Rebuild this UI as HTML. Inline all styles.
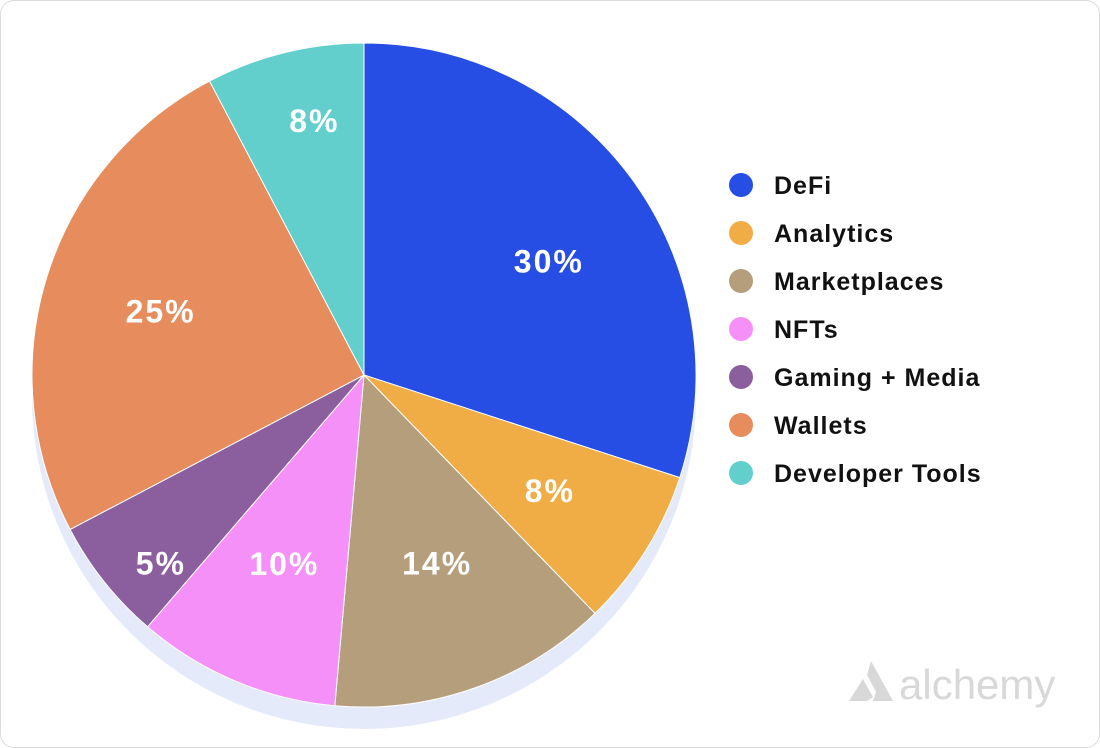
<!DOCTYPE html>
<html><head><meta charset="utf-8"><style>
html,body{margin:0;padding:0;background:#fff;}
#card{position:absolute;left:0;top:0;width:1098px;height:746px;border:1px solid #dcdcdc;border-radius:14px;background:#fff;overflow:hidden;}
svg{position:absolute;left:0;top:0;}
text{font-family:"Liberation Sans",sans-serif;}
</style></head><body>
<div id="card">
<svg id="chart" width="1100" height="748"></svg>
</div>
<script>
const categories=["DeFi","Analytics","Marketplaces","NFTs","Gaming + Media","Wallets","Developer Tools"];
const values=[30,7.75,13.65,9.9,6,25,7.7];
const labels=["30%","8%","14%","10%","5%","25%","8%"];
const colors=["#264de4","#f0ad46","#b59e7b","#f590f9","#8b5f9e","#e68c5d","#62cfcd"];
const labelRadius=[217,219,202,205,277,213,259];
const labelAngleOffset=[4.4,0,-1.7,0,-4.3,0,2.8];
const NS="http://www.w3.org/2000/svg";
const svg=document.getElementById('chart');
const cx=363,cy=374,R=332;
function mk(t,a,p){const e=document.createElementNS(NS,t);for(const k in a)e.setAttribute(k,a[k]);(p||svg).appendChild(e);return e;}
const sh=mk('circle',{cx:cx,cy:cy+22,r:R,fill:'#e5eafb'});


const total=values.reduce((a,b)=>a+b,0);
function pt(a,r){return [cx+r*Math.sin(a),cy-r*Math.cos(a)];}
let acc=0;
values.forEach((v,i)=>{
  const a0=acc/total*2*Math.PI;acc+=v;const a1=acc/total*2*Math.PI;
  const p0=pt(a0,R),p1=pt(a1,R);
  const large=(a1-a0)>Math.PI?1:0;
  const s=mk('path',{d:`M${cx},${cy}L${p0[0]},${p0[1]}A${R},${R} 0 ${large} 1 ${p1[0]},${p1[1]}Z`,fill:colors[i],stroke:'#fff','stroke-width':1});
  
  
  const m=(a0+a1)/2+labelAngleOffset[i]*Math.PI/180;const lp=pt(m,labelRadius[i]);
  const t=mk('text',{x:lp[0],y:lp[1]+11,'text-anchor':'middle','font-size':32,'font-weight':'bold','letter-spacing':2,fill:'#fff'});
  t.textContent=labels[i];
  
  
});
categories.forEach((c,i)=>{
  const y=184+i*48;
  const g=mk('g',{});
  
  
  mk('circle',{cx:740,cy:y,r:12,fill:colors[i]},g);
  const t=mk('text',{x:773,y:y+9,'font-size':25,'font-weight':'bold','letter-spacing':1,fill:'#111'},g);
  t.textContent=c;
});
const logo=mk('g',{});


mk('path',{d:'M870,660 L892,700 L880,700 L866,674 Z M862,678 L872,696 L866,700 L848,700 Z M876,688 L886,700 L872,700 Z',fill:'#d8d8d8'},logo);
const lt=mk('text',{x:898,y:698,'font-size':42,fill:'#d8d8d8'},logo);
lt.textContent='alchemy';
</script>
</body></html>
